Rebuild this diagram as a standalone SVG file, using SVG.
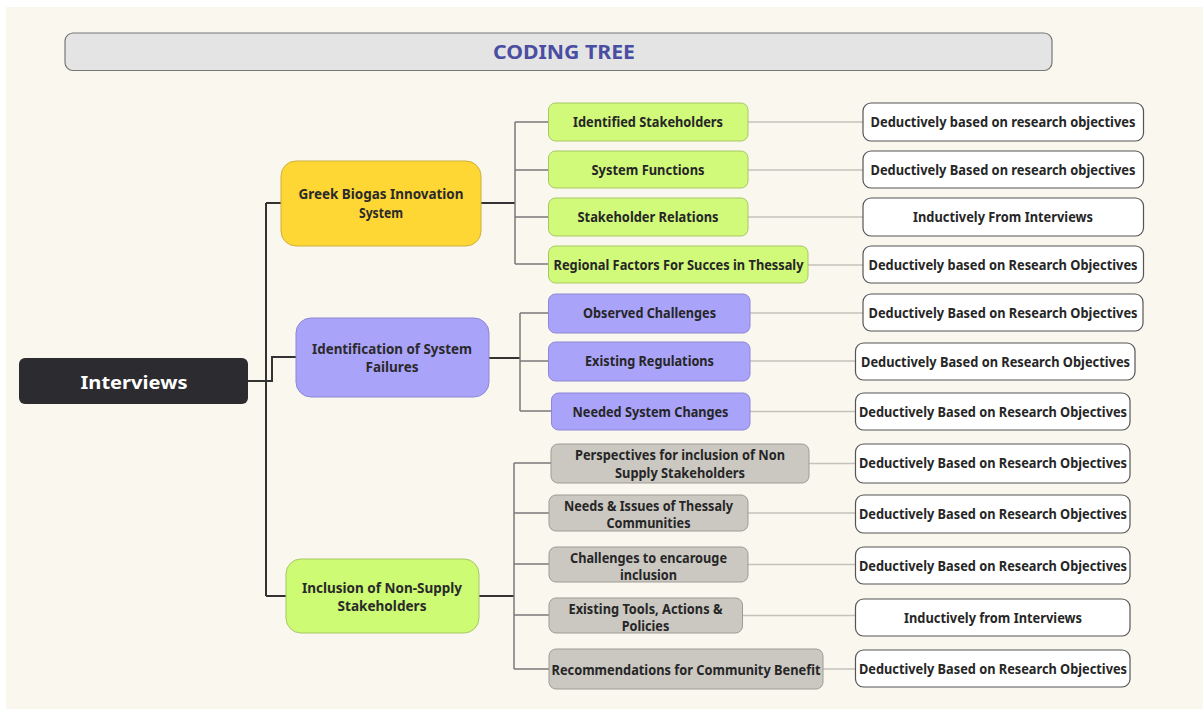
<svg xmlns="http://www.w3.org/2000/svg" width="1203" height="709" viewBox="0 0 1203 709">
<style>
text{font-family:"Noto Sans","Open Sans","Liberation Sans",sans-serif;font-weight:700;text-anchor:middle;lengthAdjust:spacingAndGlyphs}
.t{font-size:13.5px;fill:#262626}
.l1{font-size:14px;fill:#2a2a2a}
.child{stroke-width:1}
.g{fill:#d1f97a;stroke:#a8c764}
.p{fill:#aaa3fa;stroke:#8d86d6}
.s{fill:#cbc8c2;stroke:#9e9b95}
.r{fill:#ffffff;stroke:#555555;stroke-width:1.2}
.main{fill:none;stroke:#333333;stroke-width:2}
.br{fill:none;stroke:#7a7a7a;stroke-width:1.5}
.lk{fill:none;stroke:#c4c2bb;stroke-width:1.5}
</style>
<rect x="0" y="0" width="1203" height="709" fill="#ffffff"/>
<rect x="6" y="7" width="1197" height="702" fill="#faf7ee"/>

<g id="title">
<rect x="65" y="33" width="987" height="37.5" rx="8" fill="#e4e4e4" stroke="#777777" stroke-width="1.2"/>
<text x="564" y="58.5" font-size="19" fill="#4a4ea2" textLength="142" lengthAdjust="spacingAndGlyphs">CODING TREE</text>
</g>

<g id="connectors">
<path class="main" d="M266,203 V596 M266,203 H281 M266,596 H286 M248,381 H272 V357 H296"/>
<path class="main" d="M481,203 H515 M489,358 H520 M479,596 H514"/>
<path class="br" d="M515,122 V264 M515,122 H548 M515,170 H548 M515,217 H548 M515,264 H548"/>
<path class="br" d="M520,313 V411 M520,313 H548 M520,361 H548 M520,411 H551"/>
<path class="br" d="M514,463 V669 M514,463 H551 M514,513 H549 M514,564 H549 M514,615 H549 M514,669 H549"/>
<path class="lk" d="M748,122 H863 M748,170 H863 M748,217 H863 M808,265 H863 M750,313 H863 M750,361 H856 M750,411.5 H856 M809,463.5 H856 M748,513 H856 M748,564.5 H856 M742.5,615.5 H856 M823,669 H856"/>
</g>

<g id="interviews">
<rect x="19" y="358" width="229" height="46" rx="6" fill="#2c2c30"/>
<text x="134" y="389" font-size="18.5" fill="#ffffff" textLength="107" lengthAdjust="spacingAndGlyphs">Interviews</text>
</g>

<g id="greek-biogas">
<rect x="281" y="161" width="200" height="85" rx="15" fill="#fed735" stroke="#cdb03c" stroke-width="1"/>
<text class="l1" x="381" y="199" textLength="165" lengthAdjust="spacingAndGlyphs">Greek Biogas Innovation</text>
<text class="l1" x="381" y="218" textLength="44" lengthAdjust="spacingAndGlyphs">System</text>
</g>

<g id="identification">
<rect x="296" y="318" width="193" height="79" rx="15" fill="#aaa3fa" stroke="#8d86d6" stroke-width="1"/>
<text class="l1" x="392" y="354" textLength="160" lengthAdjust="spacingAndGlyphs">Identification of System</text>
<text class="l1" x="392" y="372" textLength="53" lengthAdjust="spacingAndGlyphs">Failures</text>
</g>

<g id="inclusion">
<rect x="286" y="559" width="193" height="74" rx="15" fill="#cdfb74" stroke="#a6c764" stroke-width="1"/>
<text class="l1" x="382" y="593" textLength="160" lengthAdjust="spacingAndGlyphs">Inclusion of Non-Supply</text>
<text class="l1" x="382" y="611" textLength="89" lengthAdjust="spacingAndGlyphs">Stakeholders</text>
</g>

<g id="identified-stakeholders">
<rect class="g" x="548.5" y="103" width="199.5" height="38" rx="7"/>
<text class="t" x="648" y="127" textLength="150" lengthAdjust="spacingAndGlyphs">Identified Stakeholders</text>
</g>
<g id="system-functions">
<rect class="g" x="548.5" y="151" width="199.5" height="37" rx="7"/>
<text class="t" x="648" y="174.5" textLength="113" lengthAdjust="spacingAndGlyphs">System Functions</text>
</g>
<g id="stakeholder-relations">
<rect class="g" x="548.5" y="198" width="199.5" height="38" rx="7"/>
<text class="t" x="648" y="221.5" textLength="141" lengthAdjust="spacingAndGlyphs">Stakeholder Relations</text>
</g>
<g id="regional-factors">
<rect class="g" x="548.5" y="246" width="259.5" height="37" rx="7"/>
<text class="t" x="678.5" y="269.5" textLength="250" lengthAdjust="spacingAndGlyphs">Regional Factors For Succes in Thessaly</text>
</g>

<g id="observed-challenges">
<rect class="p" x="548.5" y="294" width="201.5" height="39" rx="7"/>
<text class="t" x="649.5" y="318" textLength="133" lengthAdjust="spacingAndGlyphs">Observed Challenges</text>
</g>
<g id="existing-regulations">
<rect class="p" x="548.5" y="342" width="201.5" height="39" rx="7"/>
<text class="t" x="649.5" y="366" textLength="129" lengthAdjust="spacingAndGlyphs">Existing Regulations</text>
</g>
<g id="needed-system-changes">
<rect class="p" x="551.5" y="393" width="198.5" height="37" rx="7"/>
<text class="t" x="650.5" y="416.5" textLength="156" lengthAdjust="spacingAndGlyphs">Needed System Changes</text>
</g>

<g id="perspectives">
<rect class="s" x="551" y="444" width="258" height="39" rx="7"/>
<text class="t" x="680" y="460" textLength="210" lengthAdjust="spacingAndGlyphs">Perspectives for inclusion of Non</text>
<text class="t" x="680" y="477.5" textLength="130" lengthAdjust="spacingAndGlyphs">Supply Stakeholders</text>
</g>
<g id="needs-issues">
<rect class="s" x="549" y="495" width="199" height="36" rx="7"/>
<text class="t" x="648.5" y="510.5" textLength="169" lengthAdjust="spacingAndGlyphs">Needs &amp; Issues of Thessaly</text>
<text class="t" x="648.5" y="527.5" textLength="84" lengthAdjust="spacingAndGlyphs">Communities</text>
</g>
<g id="challenges-inclusion">
<rect class="s" x="549" y="547" width="199" height="35" rx="7"/>
<text class="t" x="648.5" y="562.5" textLength="157" lengthAdjust="spacingAndGlyphs">Challenges to encarouge</text>
<text class="t" x="648.5" y="579.5" textLength="57" lengthAdjust="spacingAndGlyphs">inclusion</text>
</g>
<g id="existing-tools">
<rect class="s" x="549" y="598" width="193.5" height="35" rx="7"/>
<text class="t" x="645.5" y="613.5" textLength="154" lengthAdjust="spacingAndGlyphs">Existing Tools, Actions &amp;</text>
<text class="t" x="645.5" y="630.5" textLength="47.5" lengthAdjust="spacingAndGlyphs">Policies</text>
</g>
<g id="recommendations">
<rect class="s" x="549" y="649" width="274" height="40" rx="7"/>
<text class="t" x="686" y="674.5" textLength="269" lengthAdjust="spacingAndGlyphs">Recommendations for Community Benefit</text>
</g>

<g id="src-1">
<rect class="r" x="863" y="103" width="280.5" height="38" rx="8"/>
<text class="t" x="1003" y="127" textLength="265" lengthAdjust="spacingAndGlyphs">Deductively based on research objectives</text>
</g>
<g id="src-2">
<rect class="r" x="863" y="151" width="280.5" height="37" rx="8"/>
<text class="t" x="1003" y="174.5" textLength="265" lengthAdjust="spacingAndGlyphs">Deductively Based on research objectives</text>
</g>
<g id="src-3">
<rect class="r" x="863" y="198" width="280.5" height="38" rx="8"/>
<text class="t" x="1003" y="221.5" textLength="180" lengthAdjust="spacingAndGlyphs">Inductively From Interviews</text>
</g>
<g id="src-4">
<rect class="r" x="863" y="246" width="280.5" height="37" rx="8"/>
<text class="t" x="1003" y="269.5" textLength="269" lengthAdjust="spacingAndGlyphs">Deductively based on Research Objectives</text>
</g>
<g id="src-5">
<rect class="r" x="863" y="294" width="280" height="37" rx="8"/>
<text class="t" x="1003" y="317.5" textLength="269" lengthAdjust="spacingAndGlyphs">Deductively Based on Research Objectives</text>
</g>
<g id="src-6">
<rect class="r" x="855.5" y="343" width="279.5" height="37" rx="8"/>
<text class="t" x="995.5" y="366.5" textLength="269" lengthAdjust="spacingAndGlyphs">Deductively Based on Research Objectives</text>
</g>
<g id="src-7">
<rect class="r" x="855.5" y="393" width="274.5" height="37" rx="8"/>
<text class="t" x="993" y="416.5" textLength="268" lengthAdjust="spacingAndGlyphs">Deductively Based on Research Objectives</text>
</g>
<g id="src-8">
<rect class="r" x="855.5" y="444" width="274.5" height="39" rx="8"/>
<text class="t" x="993" y="468" textLength="268" lengthAdjust="spacingAndGlyphs">Deductively Based on Research Objectives</text>
</g>
<g id="src-9">
<rect class="r" x="855.5" y="495" width="274.5" height="38" rx="8"/>
<text class="t" x="993" y="519" textLength="268" lengthAdjust="spacingAndGlyphs">Deductively Based on Research Objectives</text>
</g>
<g id="src-10">
<rect class="r" x="855.5" y="547" width="274.5" height="37" rx="8"/>
<text class="t" x="993" y="570.5" textLength="268" lengthAdjust="spacingAndGlyphs">Deductively Based on Research Objectives</text>
</g>
<g id="src-11">
<rect class="r" x="855.5" y="599" width="274.5" height="37" rx="8"/>
<text class="t" x="993" y="622.5" textLength="178" lengthAdjust="spacingAndGlyphs">Inductively from Interviews</text>
</g>
<g id="src-12">
<rect class="r" x="855.5" y="650" width="274.5" height="37" rx="8"/>
<text class="t" x="993" y="673.5" textLength="268" lengthAdjust="spacingAndGlyphs">Deductively Based on Research Objectives</text>
</g>
</svg>
